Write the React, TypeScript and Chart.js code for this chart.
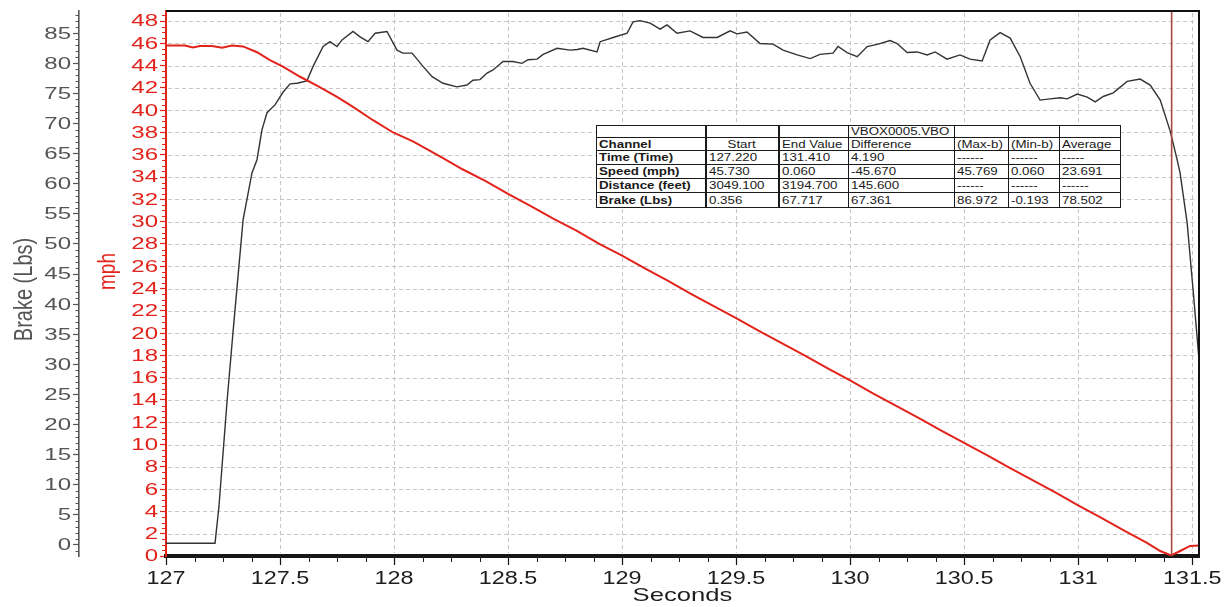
import React, { useEffect, useRef } from "react";
import { Chart, registerables } from "chart.js";

Chart.register(...registerables);

const FONT = '"Liberation Sans", Arial, Helvetica, sans-serif';

// ---- Brake channel (Lbs) ----
const brakeSeconds = [
  127.0, 127.215, 127.232, 127.268, 127.294, 127.338, 127.377, 127.399, 127.421, 127.443,
  127.478, 127.513, 127.544, 127.575, 127.618, 127.645, 127.689, 127.719, 127.75, 127.772,
  127.82, 127.851, 127.886, 127.917, 127.969, 128.013, 128.039, 128.079, 128.127, 128.167,
  128.215, 128.276, 128.32, 128.346, 128.377, 128.408, 128.434, 128.478, 128.522, 128.561,
  128.588, 128.627, 128.654, 128.715, 128.772, 128.803, 128.829, 128.89, 128.904, 128.961,
  129.022, 129.048, 129.079, 129.123, 129.167, 129.197, 129.241, 129.298, 129.355, 129.417,
  129.474, 129.504, 129.548, 129.605, 129.662, 129.706, 129.768, 129.825, 129.868, 129.925,
  129.947, 129.987, 130.031, 130.075, 130.123, 130.175, 130.206, 130.25, 130.294, 130.338,
  130.373, 130.425, 130.482, 130.526, 130.579, 130.614, 130.658, 130.702, 130.746, 130.789,
  130.833, 130.877, 130.921, 130.952, 130.996, 131.04, 131.075, 131.11, 131.154, 131.215,
  131.272, 131.316, 131.36, 131.404, 131.434, 131.447, 131.478, 131.504, 131.535,
];
const brakeLbs = [
  0.3, 0.3, 6.3, 24.0, 35.4, 54.0, 61.8, 64.0, 69.0, 71.8,
  73.1, 75.2, 76.6, 76.7, 77.1, 79.5, 82.8, 83.6, 82.8, 83.9,
  85.3, 84.4, 83.6, 85.0, 85.3, 82.2, 81.7, 81.7, 79.5, 77.8,
  76.7, 76.1, 76.4, 77.2, 77.3, 78.4, 78.9, 80.3, 80.3, 80.0,
  80.6, 80.7, 81.5, 82.5, 82.2, 82.3, 82.5, 81.9, 83.6, 84.3,
  85.0, 86.9, 87.1, 86.7, 85.7, 86.4, 85.0, 85.4, 84.3, 84.3,
  85.4, 84.9, 85.2, 83.3, 83.2, 82.2, 81.4, 80.8, 81.5, 81.7,
  82.8, 81.8, 81.1, 82.8, 83.2, 83.8, 83.3, 81.8, 81.9, 81.4,
  81.9, 80.7, 81.4, 80.7, 80.4, 83.9, 85.1, 84.2, 81.1, 76.7,
  73.9, 74.1, 74.3, 74.1, 74.9, 74.4, 73.6, 74.5, 75.1, 77.0,
  77.4, 76.4, 73.9, 68.7, 64.0, 61.8, 53.5, 42.4, 28.6,
];

// ---- Speed channel (mph) ----
const speedSeconds = [
  127.0, 127.083, 127.118, 127.149, 127.202, 127.246, 127.289, 127.338, 127.399, 127.456,
  127.513, 127.588, 127.662, 127.75, 127.82, 127.908, 127.996, 128.083, 128.215,
  128.3, 128.4, 128.5, 128.6, 128.7, 128.8, 128.9, 129.0, 129.1, 129.2,
  129.3, 129.4, 129.5, 129.6, 129.7, 129.8, 129.9, 130.0, 130.1, 130.2,
  130.3, 130.4, 130.5, 130.6, 130.7, 130.8, 130.9, 131.0, 131.1, 131.2,
  131.3, 131.36, 131.408, 131.447, 131.491, 131.535,
];
const speedMph = [
  45.8, 45.8, 45.62, 45.75, 45.75, 45.6, 45.8, 45.72, 45.2, 44.5,
  43.9, 43.0, 42.2, 41.2, 40.3, 39.1, 38.0, 37.2, 35.7,
  34.7, 33.65, 32.5, 31.4, 30.25, 29.2, 28.0, 26.95, 25.8, 24.7,
  23.55, 22.45, 21.35, 20.2, 19.1, 18.0, 16.85, 15.75, 14.6, 13.5,
  12.4, 11.25, 10.15, 9.05, 7.9, 6.8, 5.7, 4.55, 3.45, 2.3,
  1.2, 0.45, 0.05, 0.45, 0.9, 0.95,
];

// ---- Axes ----
const secondsRange = [127, 131.53];
const brakeAxisRange = [-1.83, 88.7];
const mphAxisRange = [0, 48.9];
const secondsStep = 0.5;
const secondsMinorStep = 0.125;
const brakeStep = 5;
const brakeMinorStep = 1;
const mphStep = 2;
const mphMinorStep = 0.5;
const markerSeconds = 131.41;

const xTitle = "Seconds";
const brakeTitle = "Brake (Lbs)";
const mphTitle = "mph";

// ---- Statistics table ----
const tableColWidths = [109, 73, 70, 106, 54, 51, 61];
const tableRowHeights = [12, 13, 14, 14, 14, 15];
const tableTitleRow = ["", "", "", "VBOX0005.VBO", "", "", ""];
const tableHeadRow = ["Channel", "Start", "End Value", "Difference", "(Max-b)", "(Min-b)", "Average"];
const timeRow = ["Time (Time)", "127.220", "131.410", "4.190", "------", "------", "-----"];
const speedRow = ["Speed (mph)", "45.730", "0.060", "-45.670", "45.769", "0.060", "23.691"];
const distanceRow = ["Distance (feet)", "3049.100", "3194.700", "145.600", "------", "------", "------"];
const brakeRow = ["Brake (Lbs)", "0.356", "67.717", "67.361", "86.972", "-0.193", "78.502"];

const RED = "#e2231b";
const GRAY = "#555555";

function stretchText(
  ctx: CanvasRenderingContext2D,
  text: string,
  x: number,
  y: number,
  sx: number,
  align: CanvasTextAlign,
  rot = 0
) {
  ctx.save();
  ctx.translate(x, y);
  if (rot) {
    ctx.rotate(rot);
    ctx.scale(1, sx);
  } else {
    ctx.scale(sx, 1);
  }
  ctx.textAlign = align;
  ctx.textBaseline = "middle";
  ctx.fillText(text, 0, 0);
  ctx.restore();
}

function fmt(v: number) {
  return String(Math.round(v * 1000) / 1000);
}

const decorPlugin = {
  id: "decor",
  beforeDatasetsDraw(chart: any) {
    const { ctx, chartArea: a } = chart;
    const xs = chart.scales.x;
    const ys = chart.scales.ySpeed;
    ctx.save();
    ctx.strokeStyle = "#c6c6c6";
    ctx.lineWidth = 1;
    ctx.setLineDash([4, 3]);
    ctx.beginPath();
    ys.ticks.forEach((t: any) => {
      const y = Math.round(ys.getPixelForValue(t.value)) + 0.5;
      if (y < a.top + 3 || y > a.bottom - 3) return;
      ctx.moveTo(a.left + 2, y);
      ctx.lineTo(a.right - 2, y);
    });
    xs.ticks.forEach((t: any) => {
      const x = Math.round(xs.getPixelForValue(t.value)) + 0.5;
      if (x < a.left + 3 || x > a.right - 3) return;
      ctx.moveTo(x, a.top + 2);
      ctx.lineTo(x, a.bottom - 3);
    });
    ctx.stroke();
    ctx.restore();
  },
  afterDatasetsDraw(chart: any) {
    const { ctx, chartArea: a } = chart;
    const xs = chart.scales.x;
    const sb = chart.scales.yBrake;
    const ss = chart.scales.ySpeed;
    ctx.save();

    // cursor marker
    const mx = xs.getPixelForValue(markerSeconds);
    ctx.strokeStyle = "#a9483f";
    ctx.lineWidth = 1.6;
    ctx.beginPath();
    ctx.moveTo(mx, a.top);
    ctx.lineTo(mx, a.bottom);
    ctx.stroke();

    // frame top / right
    ctx.strokeStyle = "#111";
    ctx.lineWidth = 2;
    ctx.beginPath();
    ctx.moveTo(a.left, a.top);
    ctx.lineTo(a.right, a.top);
    ctx.lineTo(a.right, a.bottom);
    ctx.stroke();

    // minor ticks
    ctx.lineWidth = 1;
    ctx.strokeStyle = GRAY;
    ctx.beginPath();
    for (let v = Math.ceil(brakeAxisRange[0]); v <= brakeAxisRange[1]; v += brakeMinorStep) {
      if (v % brakeStep === 0) continue;
      const y = Math.round(sb.getPixelForValue(v)) + 0.5;
      ctx.moveTo(sb.right - 3.5, y);
      ctx.lineTo(sb.right, y);
    }
    ctx.stroke();
    ctx.strokeStyle = RED;
    ctx.beginPath();
    for (let v = mphAxisRange[0]; v <= mphAxisRange[1]; v += mphMinorStep) {
      if (Math.abs(v / mphStep - Math.round(v / mphStep)) < 1e-6) continue;
      const y = Math.round(ss.getPixelForValue(v)) + 0.5;
      ctx.moveTo(ss.right - 4, y);
      ctx.lineTo(ss.right, y);
    }
    ctx.stroke();
    ctx.strokeStyle = "#222";
    ctx.beginPath();
    for (let v = secondsRange[0]; v <= secondsRange[1]; v += secondsMinorStep) {
      if (Math.abs(v / secondsStep - Math.round(v / secondsStep)) < 1e-6) continue;
      const x = Math.round(xs.getPixelForValue(v)) + 0.5;
      ctx.moveTo(x, a.bottom);
      ctx.lineTo(x, a.bottom + 6);
    }
    ctx.stroke();

    // tick labels
    ctx.font = `16px ${FONT}`;
    ctx.fillStyle = GRAY;
    sb.ticks.forEach((t: any) => {
      stretchText(ctx, fmt(t.value), sb.right - 8, sb.getPixelForValue(t.value) + 1, 1.5, "right");
    });
    ctx.fillStyle = RED;
    ss.ticks.forEach((t: any) => {
      stretchText(ctx, fmt(t.value), ss.right - 8, ss.getPixelForValue(t.value) + 1, 1.5, "right");
    });
    ctx.font = `18px ${FONT}`;
    ctx.fillStyle = "#1e1e1e";
    xs.ticks.forEach((t: any) => {
      stretchText(ctx, fmt(t.value), xs.getPixelForValue(t.value), a.bottom + 23, 1.3, "center");
    });

    // axis titles
    ctx.font = `19px ${FONT}`;
    ctx.fillStyle = "#1e1e1e";
    stretchText(ctx, xTitle, (a.left + a.right) / 2, a.bottom + 40, 1.35, "center");
    ctx.font = `20px ${FONT}`;
    ctx.fillStyle = GRAY;
    stretchText(ctx, brakeTitle, sb.left + 25, (a.top + a.bottom) / 2 + 6, 1.3, "center", -Math.PI / 2);
    ctx.font = `19px ${FONT}`;
    ctx.fillStyle = RED;
    stretchText(ctx, mphTitle, ss.left + 29, (a.top + a.bottom) / 2 - 12, 1.3, "center", -Math.PI / 2);

    ctx.restore();
  },
};

function StatsTable() {
  const rows = [tableTitleRow, tableHeadRow, timeRow, speedRow, distanceRow, brakeRow];
  return (
    <table
      style={{
        position: "absolute",
        left: 596,
        top: 125,
        width: tableColWidths.reduce((s, w) => s + w, 0),
        borderCollapse: "collapse",
        tableLayout: "fixed",
        background: "#fff",
        fontFamily: FONT,
        fontSize: 10,
        color: "#1a1a1a",
      }}
    >
      <colgroup>
        {tableColWidths.map((w, i) => (
          <col key={i} style={{ width: w }} />
        ))}
      </colgroup>
      <tbody>
        {rows.map((row, r) => (
          <tr key={r} style={{ height: tableRowHeights[r] }}>
            {row.map((c, i) => {
              const centered = r === 1 && i === 1;
              return (
                <td
                  key={i}
                  style={{
                    border: "1px solid #1a1a1a",
                    borderLeftWidth: i === 1 || i === 2 ? 2 : 1,
                    padding: "0 2px",
                    whiteSpace: "nowrap",
                    lineHeight: "11px",
                    fontWeight: i === 0 && r > 0 ? "bold" : "normal",
                    textAlign: centered ? "center" : "left",
                    overflow: "visible",
                  }}
                >
                  <span
                    style={{
                      display: "inline-block",
                      transform: "scaleX(1.33)",
                      transformOrigin: centered ? "center" : "left",
                    }}
                  >
                    {c}
                  </span>
                </td>
              );
            })}
          </tr>
        ))}
      </tbody>
    </table>
  );
}

export default function App() {
  const ref = useRef<HTMLCanvasElement>(null);

  useEffect(() => {
    if (!ref.current) return;
    const toPoints = (xs: number[], ys: number[]) => xs.map((x, i) => ({ x, y: ys[i] }));
    const chart = new Chart(ref.current, {
      type: "line",
      data: {
        datasets: [
          {
            label: "Brake (Lbs)",
            data: toPoints(brakeSeconds, brakeLbs),
            yAxisID: "yBrake",
            borderColor: "#333333",
            borderWidth: 1.4,
            pointRadius: 0,
            tension: 0,
            order: 2,
          },
          {
            label: "Speed (mph)",
            data: toPoints(speedSeconds, speedMph),
            yAxisID: "ySpeed",
            borderColor: RED,
            borderWidth: 2,
            pointRadius: 0,
            tension: 0,
            order: 1,
          },
        ],
      },
      options: {
        animation: false,
        responsive: false,
        devicePixelRatio: 1,
        events: [],
        layout: { padding: { top: 11, right: 25, left: 0, bottom: 0 } },
        plugins: { legend: { display: false }, tooltip: { enabled: false } },
        scales: {
          x: {
            type: "linear",
            position: "bottom",
            min: secondsRange[0],
            max: secondsRange[1],
            afterFit: (s: any) => {
              s.height = 51;
              s.paddingLeft = 0;
              s.paddingRight = 0;
            },
            ticks: { display: false, stepSize: secondsStep, includeBounds: false, autoSkip: false },
            grid: { drawOnChartArea: false, drawTicks: true, tickLength: 9, tickColor: "#111", tickWidth: 1.2 },
            border: { display: true, color: "#161616", width: 4 },
          },
          yBrake: {
            type: "linear",
            position: "left",
            weight: 10,
            min: brakeAxisRange[0],
            max: brakeAxisRange[1],
            afterFit: (s: any) => {
              s.width = 79;
              s.paddingTop = 0;
              s.paddingBottom = 0;
            },
            ticks: { display: false, stepSize: brakeStep, includeBounds: false, autoSkip: false },
            grid: { drawOnChartArea: false, tickLength: 6, tickColor: GRAY, tickWidth: 1.2 },
            border: { display: true, color: GRAY, width: 1.6 },
          },
          ySpeed: {
            type: "linear",
            position: "left",
            weight: 0,
            min: mphAxisRange[0],
            max: mphAxisRange[1],
            afterFit: (s: any) => {
              s.width = 87;
              s.paddingTop = 0;
              s.paddingBottom = 0;
            },
            ticks: { display: false, stepSize: mphStep, includeBounds: false, autoSkip: false },
            grid: { drawOnChartArea: false, tickLength: 6, tickColor: RED, tickWidth: 1.2 },
            border: { display: true, color: RED, width: 2 },
          },
        },
      },
      plugins: [decorPlugin],
    } as any);
    return () => chart.destroy();
  }, []);

  return (
    <div
      style={{
        position: "fixed",
        left: 0,
        top: 0,
        width: 1224,
        height: 607,
        background: "#fff",
        overflow: "hidden",
      }}
    >
      <canvas ref={ref} width={1224} height={607} style={{ display: "block", width: 1224, height: 607 }} />
      <StatsTable />
    </div>
  );
}
